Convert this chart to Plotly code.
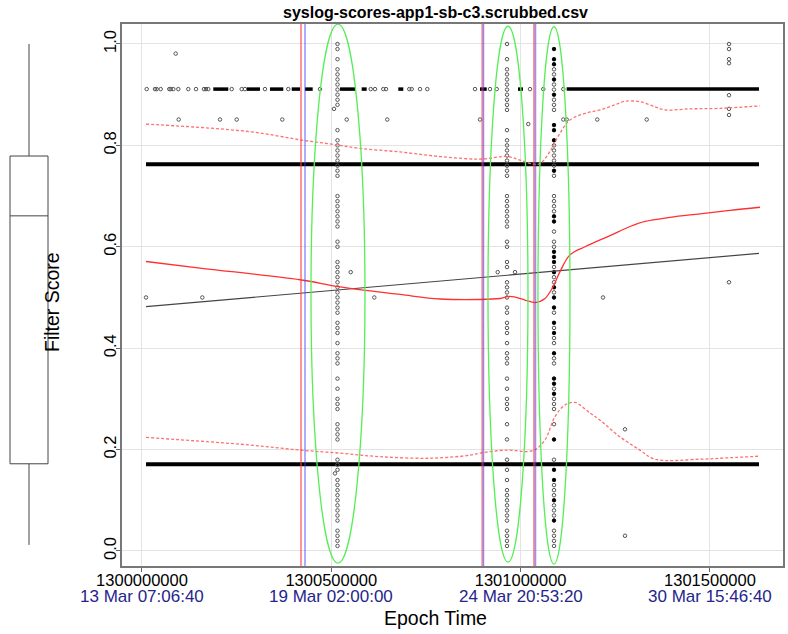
import plotly.graph_objects as go

TITLE = "syslog-scores-app1-sb-c3.scrubbed.csv"

# ---------------- data ----------------
x_ticks = [1300000000, 1300500000, 1301000000, 1301500000]
x_tick_dates = ["13 Mar 07:06:40", "19 Mar 02:00:00", "24 Mar 20:53:20", "30 Mar 15:46:40"]
y_ticks = [0.0, 0.2, 0.4, 0.6, 0.8, 1.0]

# boxplot summary of Filter Score
box_lower, box_q1, box_median, box_q3, box_upper = 0.012, 0.172, 0.661, 0.779, 1.0

# dense horizontal bands of scores (start, end epoch)
band_x = [1300010600, 1301629500]
band_high = 0.763
band_low = 0.171

# 0.91 row: dense runs and isolated points
row91_y = 0.911
row91_runs = [
    (1300188300, 1300227900), (1300276500, 1300311600), (1300338000, 1300373200),
    (1300395400, 1300417300), (1300430500, 1300450800), (1300522900, 1300562500),
    (1300580200, 1300593400), (1300676900, 1300690100), (1300892700, 1300910400),
    (1300993000, 1301006200), (1301121600, 1301629500),
]
row91_pts = [
    1300012400, 1300034300, 1300038800, 1300049400, 1300072100, 1300075800,
    1300082700, 1300095900, 1300122300, 1300142600, 1300163700, 1300169000,
    1300175100, 1300236900, 1300263300, 1300272000, 1300324800, 1300386400,
    1300470100, 1300604000, 1300615400, 1300637300, 1300644400, 1300705900,
    1300712300, 1300734200, 1300753500, 1300879500, 1300919100, 1300936800,
    1301024700, 1301059800, 1301112700,
]

# isolated scores
other_x = [1300089000, 1300096900, 1300206000, 1300250100, 1300370500, 1300540600,
           1300647800, 1300892700, 1301020200, 1301112700, 1301121600, 1301202400,
           1301332900, 1300507100, 1301550300, 1301550300, 1301550300, 1301550300,
           1301550300, 1301550300, 1301550300, 1301550300, 1301217500, 1301275600,
           1301275600, 1300010600, 1300159300, 1300551200, 1300613500, 1300939400,
           1300985100, 1300509700]
other_y = [0.981, 0.851, 0.851, 0.851, 0.851, 0.851,
           0.851, 0.851, 0.842, 0.851, 0.851, 0.851,
           0.851, 0.872, 1.0, 0.99, 0.97, 0.962,
           0.899, 0.872, 0.86, 0.53, 0.50, 0.24,
           0.03, 0.50, 0.50, 0.55, 0.50, 0.55,
           0.55, 0.153]

# vertical columns of scores
col1_x = 1300516300
col1_y = [1.00, 0.99, 0.97, 0.95, 0.94, 0.93, 0.92, 0.91, 0.90, 0.89, 0.88, 0.83, 0.81, 0.80,
          0.79, 0.78, 0.77, 0.76, 0.75, 0.74, 0.70, 0.69, 0.68, 0.67, 0.66, 0.65, 0.64, 0.61,
          0.60, 0.57, 0.56, 0.55, 0.54, 0.53, 0.52, 0.51, 0.50, 0.49, 0.48, 0.47, 0.45, 0.44,
          0.43, 0.41, 0.39, 0.38, 0.37, 0.34, 0.32, 0.30, 0.29, 0.28, 0.25, 0.24, 0.23, 0.22,
          0.18, 0.17, 0.16, 0.14, 0.13, 0.12, 0.11, 0.10, 0.09, 0.08, 0.07, 0.06, 0.04, 0.03,
          0.02, 0.01]
col2_x = 1300964000
col2_y = [1.00, 0.97, 0.95, 0.94, 0.93, 0.92, 0.91, 0.90, 0.89, 0.88, 0.87, 0.83, 0.81, 0.80,
          0.79, 0.78, 0.77, 0.76, 0.75, 0.74, 0.70, 0.69, 0.68, 0.67, 0.66, 0.65, 0.64, 0.61,
          0.60, 0.57, 0.56, 0.53, 0.52, 0.51, 0.50, 0.48, 0.47, 0.45, 0.44, 0.43, 0.41, 0.39,
          0.38, 0.37, 0.34, 0.32, 0.30, 0.29, 0.28, 0.25, 0.22, 0.18, 0.16, 0.14, 0.12, 0.11,
          0.10, 0.09, 0.08, 0.07, 0.06, 0.04, 0.03, 0.02, 0.01]
col3_x = 1301088100
col3_y = [0.99, 0.97, 0.96, 0.95, 0.94, 0.93, 0.92, 0.91, 0.90, 0.89, 0.88, 0.87, 0.84, 0.83,
          0.81, 0.80, 0.79, 0.78, 0.77, 0.76, 0.75, 0.74, 0.70, 0.69, 0.68, 0.67, 0.66, 0.65,
          0.63, 0.61, 0.60, 0.59, 0.58, 0.57, 0.56, 0.55, 0.54, 0.53, 0.52, 0.51, 0.50, 0.48,
          0.47, 0.45, 0.44, 0.43, 0.42, 0.41, 0.39, 0.38, 0.37, 0.34, 0.33, 0.32, 0.31, 0.30,
          0.29, 0.28, 0.25, 0.22, 0.18, 0.16, 0.14, 0.13, 0.12, 0.11, 0.10, 0.09, 0.08, 0.07,
          0.06, 0.04, 0.03, 0.02, 0.01]
col3_dense_y = [0.99, 0.97, 0.96, 0.93, 0.90, 0.84, 0.83, 0.81, 0.75, 0.66, 0.65, 0.59, 0.58,
                0.57, 0.55, 0.52, 0.50, 0.48, 0.45, 0.43, 0.39, 0.34, 0.33, 0.31, 0.22, 0.16,
                0.14, 0.10, 0.06]

# linear regression line
reg_x = [1300010600, 1301629500]
reg_y = [0.482, 0.587]

# loess fit and its bands
fit_x = [1300010600, 1300153200, 1300417300, 1300522900, 1300681400, 1300787000, 1300892700,
         1300945500, 1300971900, 1301011500, 1301037900, 1301064300, 1301085500, 1301103900,
         1301130300, 1301170000, 1301236000, 1301288800, 1301328400, 1301394400, 1301473700,
         1301552900, 1301632100]
fit_y = [0.571, 0.558, 0.535, 0.521, 0.506, 0.497, 0.496, 0.498, 0.502, 0.495, 0.490, 0.498,
         0.521, 0.551, 0.584, 0.600, 0.622, 0.640, 0.650, 0.658, 0.665, 0.672, 0.678]

upper_x = [1300010600, 1300285200, 1300417300, 1300504400, 1300575700, 1300681400, 1300787000,
           1300892700, 1300964000, 1300998300, 1301032600, 1301051100, 1301077500, 1301103900,
           1301130300, 1301170000, 1301209600, 1301249200, 1301275600, 1301315200, 1301354800,
           1301381200, 1301447300, 1301526500, 1301632100]
upper_y = [0.842, 0.827, 0.811, 0.802, 0.794, 0.787, 0.778, 0.773, 0.778, 0.771, 0.763, 0.764,
           0.788, 0.824, 0.850, 0.863, 0.870, 0.880, 0.887, 0.886, 0.876, 0.870, 0.872, 0.873,
           0.878]

lower_x = [1300010600, 1300285200, 1300417300, 1300522900, 1300628600, 1300760600, 1300866200,
           1300892700, 1300958700, 1301032600, 1301064300, 1301090700, 1301117100, 1301143600,
           1301183200, 1301209600, 1301262400, 1301315200, 1301354800, 1301473700, 1301552900,
           1301632100]
lower_y = [0.224, 0.209, 0.199, 0.193, 0.186, 0.183, 0.189, 0.193, 0.199, 0.198, 0.219, 0.265,
           0.288, 0.293, 0.272, 0.258, 0.225, 0.199, 0.181, 0.181, 0.184, 0.187]

# change markers (red / blue vertical lines)
red_lines = [1300419900, 1300898700, 1301035300]
blue_lines = [1300430500, 1300901900, 1301039300]

# highlighted clusters (ellipse bounds: x0, x1, y0, y1)
ellipses = [
    (1300446300, 1300588900, -0.024, 1.039),
    (1300913800, 1301019400, -0.022, 1.035),
    (1301045800, 1301130300, -0.026, 1.034),
]

x_range = [1299947200, 1301692900]
y_range = [-0.0296, 1.0394]

# ---------------- figure ----------------
W, H = 788, 634
ML, MR, MT, MB = 0, 5, 24, 68
PW = W - ML - MR
PH = H - MT - MB
plot_left = 122

fig = go.Figure()

FONT = "Liberation Sans, Arial, sans-serif"
PT_COLOR = "#555555"

# bands
for yv in (band_high, band_low):
    fig.add_trace(go.Scatter(x=band_x, y=[yv, yv], mode="lines",
                             line=dict(color="black", width=4), hoverinfo="skip"))

# 0.91 dense runs
rx, ry = [], []
for a, b in row91_runs:
    rx += [a, b, None]
    ry += [row91_y, row91_y, None]
fig.add_trace(go.Scatter(x=rx, y=ry, mode="lines", line=dict(color="black", width=3.5),
                         hoverinfo="skip"))

pt_marker = dict(symbol="circle-open", size=3.5, color=PT_COLOR, line=dict(width=1, color=PT_COLOR))
fig.add_trace(go.Scatter(x=row91_pts, y=[row91_y] * len(row91_pts), mode="markers", marker=pt_marker))
fig.add_trace(go.Scatter(x=other_x, y=other_y, mode="markers", marker=pt_marker))
fig.add_trace(go.Scatter(x=[col1_x] * len(col1_y), y=col1_y, mode="markers", marker=pt_marker))
fig.add_trace(go.Scatter(x=[col2_x] * len(col2_y), y=col2_y, mode="markers", marker=pt_marker))
fig.add_trace(go.Scatter(x=[col3_x] * len(col3_y), y=col3_y, mode="markers", marker=pt_marker))
fig.add_trace(go.Scatter(x=[col3_x] * len(col3_dense_y), y=col3_dense_y, mode="markers",
                         marker=dict(symbol="circle", size=4, color="black")))

# regression line
fig.add_trace(go.Scatter(x=reg_x, y=reg_y, mode="lines", line=dict(color="#444444", width=1.2)))

# loess fit + bands
fig.add_trace(go.Scatter(x=fit_x, y=fit_y, mode="lines", line=dict(color="#ff3030", width=1.3, shape="spline")))
fig.add_trace(go.Scatter(x=upper_x, y=upper_y, mode="lines",
                         line=dict(color="#ff7070", width=1.3, dash="3px,2px", shape="spline")))
fig.add_trace(go.Scatter(x=lower_x, y=lower_y, mode="lines",
                         line=dict(color="#ff7070", width=1.3, dash="3px,2px", shape="spline")))

# boxplot panel
fig.add_trace(go.Box(x=[29], q1=[box_q1], median=[box_median], q3=[box_q3],
                     lowerfence=[box_lower], upperfence=[box_upper], width=38,
                     whiskerwidth=0, fillcolor="white", line=dict(color="#444444", width=1),
                     xaxis="x2", yaxis="y2", boxpoints=False))

shapes = []
for xv in red_lines:
    shapes.append(dict(type="line", xref="x", yref="y domain", x0=xv, x1=xv, y0=0, y1=1,
                       line=dict(color="rgba(255,60,60,0.55)", width=2)))
for xv in blue_lines:
    shapes.append(dict(type="line", xref="x", yref="y domain", x0=xv, x1=xv, y0=0, y1=1,
                       line=dict(color="rgba(60,60,255,0.55)", width=1.5)))
for (x0, x1, y0, y1) in ellipses:
    shapes.append(dict(type="circle", xref="x", yref="y", x0=x0, x1=x1, y0=y0, y1=y1,
                       line=dict(color="#55ee55", width=1.3)))


def px_x(p):
    return (p - ML) / PW


def px_y(p):
    return (H - MB - p) / PH


annotations = [
    dict(text=f"<b>{TITLE}</b>", xref="paper", yref="paper", x=px_x(435), y=px_y(12),
         showarrow=False, font=dict(size=16, family=FONT), xanchor="center", yanchor="middle"),
    dict(text="Epoch Time", xref="paper", yref="paper", x=px_x(435), y=px_y(618),
         showarrow=False, font=dict(size=19.5, family=FONT), xanchor="center", yanchor="middle"),
    dict(text="Filter Score", xref="paper", yref="paper", x=px_x(52), y=px_y(302),
         showarrow=False, textangle=-90, font=dict(size=19.5, family=FONT),
         xanchor="center", yanchor="middle"),
]
for v, d in zip(x_ticks, x_tick_dates):
    annotations.append(dict(text=d, xref="x", yref="paper", x=v, y=px_y(596), showarrow=False,
                            font=dict(size=17, family=FONT, color="#25258c"),
                            xanchor="center", yanchor="middle"))

fig.update_layout(
    width=W, height=H,
    margin=dict(l=ML, r=MR, t=MT, b=MB, pad=0, autoexpand=False),
    paper_bgcolor="white", plot_bgcolor="white",
    showlegend=False,
    font=dict(family=FONT, color="black"),
    shapes=shapes,
    xaxis=dict(domain=[px_x(plot_left), 1], range=x_range, tickvals=x_ticks,
               ticktext=[str(v) for v in x_ticks], automargin=False,
               showgrid=True, gridcolor="#e3e3e3", gridwidth=1, zeroline=False,
               ticks="outside", ticklen=4, tickcolor="#666666", ticklabelstandoff=-6,
               tickfont=dict(size=16.5, color="black"),
               showline=True, linecolor="#777777", linewidth=1.5, mirror=True),
    yaxis=dict(range=y_range, tickvals=y_ticks, ticktext=[f"{v:.1f}" for v in y_ticks],
               tickangle=-90, automargin=False, showgrid=True, gridcolor="#e3e3e3", gridwidth=1,
               zeroline=False, ticks="outside", ticklen=4, tickcolor="#666666",
               ticklabelstandoff=-6, tickfont=dict(size=16.5, color="black"),
               showline=True, linecolor="#777777", linewidth=1.5, mirror=True),
    xaxis2=dict(domain=[0, px_x(58)], range=[0, 58], visible=False, anchor="y2", automargin=False),
    yaxis2=dict(range=y_range, visible=False, anchor="x2", matches="y", automargin=False),
    annotations=annotations,
)

fig.write_html("out.html")
